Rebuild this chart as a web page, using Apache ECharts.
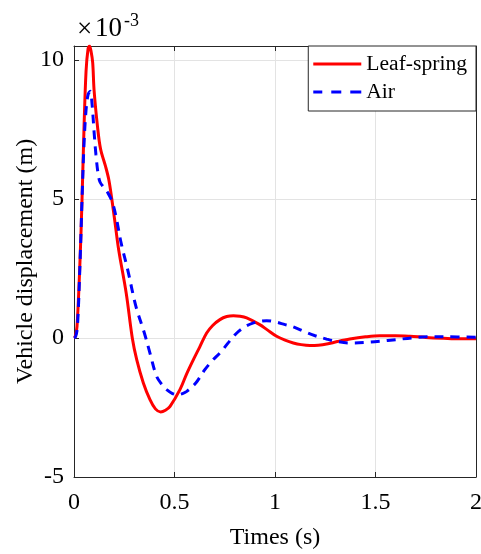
<!DOCTYPE html>
<html>
<head>
<meta charset="utf-8">
<script src="https://cdn.jsdelivr.net/npm/echarts@6/dist/echarts.min.js"></script>
<style>
  html, body { margin: 0; padding: 0; background: #fff; }
  #chart { width: 481px; height: 554px; }
</style>
</head>
<body>
<div id="chart"></div>
<script>
// Vehicle displacement response (values in units of 1e-3 m)
const xTicks = [0, 0.5, 1, 1.5, 2];
const yTicks = [-5, 0, 5, 10];

const tLeaf = [0, 0.006, 0.015, 0.03, 0.04, 0.05, 0.06, 0.07, 0.077, 0.085, 0.093, 0.10, 0.117, 0.132, 0.157, 0.173, 0.188, 0.205, 0.222, 0.26, 0.29, 0.312, 0.345, 0.378, 0.405, 0.431, 0.455, 0.478, 0.527, 0.56, 0.594, 0.627, 0.66, 0.69, 0.726, 0.76, 0.793, 0.826, 0.859, 0.924, 0.96, 1.008, 1.05, 1.091, 1.13, 1.174, 1.215, 1.257, 1.31, 1.372, 1.45, 1.522, 1.6, 1.672, 1.75, 1.838, 1.92, 2.0];
const vLeaf = [0, 0.05, 0.42, 2.8, 5.0, 7.6, 9.6, 10.4, 10.5, 10.3, 9.9, 8.9, 7.6, 6.8, 6.17, 5.7, 5.0, 4.1, 3.18, 1.6, 0.0, -0.78, -1.62, -2.22, -2.55, -2.66, -2.6, -2.46, -1.86, -1.3, -0.78, -0.3, 0.18, 0.45, 0.66, 0.77, 0.80, 0.78, 0.72, 0.48, 0.3, 0.06, -0.08, -0.18, -0.24, -0.27, -0.26, -0.22, -0.13, -0.04, 0.04, 0.08, 0.08, 0.06, 0.02, -0.01, -0.03, -0.03];

const tAir = [0, 0.008, 0.017, 0.03, 0.04, 0.05, 0.06, 0.07, 0.081, 0.09, 0.10, 0.109, 0.12, 0.13, 0.15, 0.17, 0.19, 0.209, 0.234, 0.267, 0.308, 0.35, 0.38, 0.411, 0.44, 0.461, 0.49, 0.515, 0.54, 0.561, 0.606, 0.65, 0.69, 0.726, 0.77, 0.81, 0.85, 0.893, 0.93, 0.958, 1.0, 1.05, 1.091, 1.15, 1.2, 1.257, 1.31, 1.372, 1.45, 1.522, 1.6, 1.68, 1.755, 1.85, 2.0];
const vAir = [0, 0.05, 0.4, 2.7, 5.0, 7.0, 8.2, 8.75, 8.87, 8.4, 7.4, 6.6, 5.9, 5.6, 5.4, 5.2, 4.9, 4.37, 3.43, 2.46, 1.14, 0.18, -0.6, -1.38, -1.7, -1.86, -2.0, -2.04, -2.0, -1.92, -1.62, -1.15, -0.8, -0.54, -0.15, 0.18, 0.4, 0.54, 0.6, 0.62, 0.58, 0.48, 0.40, 0.22, 0.08, -0.04, -0.13, -0.18, -0.16, -0.12, -0.06, 0.0, 0.04, 0.04, 0.03];

const seriesNames = ['Leaf-spring', 'Air'];

const zip = (t, v) => t.map((x, i) => [x, v[i]]);
const FONT = 'Liberation Serif';
const AX = '#262626';

// legend swatches: a solid bar and a dashed bar, 48 x 3
const solidIcon = 'path://M0,0h48v3h-48z';
const dashIcon = 'path://M0,0h9v3h-9zM18,0h10v3h-10zM37,0h11v3h-11z';

const xBase = {
  type: 'value', min: xTicks[0], max: xTicks[xTicks.length - 1], interval: 0.5,
  axisLine: { show: true, onZero: false, lineStyle: { color: AX, width: 1 } },
  axisTick: { show: true, inside: true, length: 5, lineStyle: { color: AX } }
};
const yBase = {
  type: 'value', min: yTicks[0], max: 10.5, interval: 5,
  axisLine: { show: true, onZero: false, lineStyle: { color: AX, width: 1 } },
  axisTick: { show: true, inside: true, length: 5, lineStyle: { color: AX } }
};

const chart = echarts.init(document.getElementById('chart'), null, { renderer: 'canvas' });
chart.setOption({
  animation: false,
  backgroundColor: '#ffffff',
  grid: { left: 74, right: 5, top: 46, bottom: 77, containLabel: false, outerBoundsMode: 'none' },
  xAxis: [
    Object.assign({}, xBase, {
      position: 'bottom',
      name: 'Times (s)', nameLocation: 'middle', nameGap: 49, nameMoveOverlap: false,
      nameTextStyle: { fontFamily: FONT, fontSize: 24, color: '#000' },
      axisLabel: { fontFamily: FONT, fontSize: 24, color: '#000', margin: 14 },
      splitLine: { show: true, lineStyle: { color: '#e3e3e3', width: 1 } }
    }),
    Object.assign({}, xBase, {
      position: 'top', axisLabel: { show: false }, splitLine: { show: false }
    })
  ],
  yAxis: [
    Object.assign({}, yBase, {
      position: 'left',
      name: 'Vehicle displacement (m)', nameLocation: 'middle', nameGap: 36, nameMoveOverlap: false,
      nameTextStyle: { fontFamily: FONT, fontSize: 24, color: '#000' },
      axisLabel: {
        fontFamily: FONT, fontSize: 24, color: '#000', margin: 10,
        formatter: v => (yTicks.indexOf(v) >= 0 ? String(v) : '')
      },
      splitLine: { show: true, lineStyle: { color: '#e3e3e3', width: 1 } }
    }),
    Object.assign({}, yBase, {
      position: 'right', axisLabel: { show: false }, splitLine: { show: false }
    })
  ],
  legend: {
    data: [
      { name: seriesNames[0], icon: solidIcon },
      { name: seriesNames[1], icon: dashIcon }
    ],
    orient: 'vertical', right: 5, top: 46,
    backgroundColor: '#fff',
    borderColor: AX, borderWidth: 1, borderRadius: 0,
    padding: [7, 9, 8, 5], itemGap: 6,
    itemWidth: 48, itemHeight: 3,
    textStyle: { fontFamily: FONT, fontSize: 21.6, lineHeight: 22, color: '#000' }
  },
  // axis exponent: x10^-3
  graphic: [
    { type: 'text', left: 77, top: 16,
      style: { text: '×', font: '27px "Liberation Serif"', fill: '#000' } },
    { type: 'text', left: 95, top: 15,
      style: { text: '10', font: '27px "Liberation Serif"', fill: '#000' } },
    { type: 'text', left: 124, top: 12,
      style: { text: '-3', font: '18px "Liberation Serif"', fill: '#000' } }
  ],
  series: [
    {
      name: seriesNames[0], type: 'line', data: zip(tLeaf, vLeaf),
      xAxisIndex: 0, yAxisIndex: 0,
      showSymbol: false, symbol: 'none', smooth: 0.35, z: 3,
      lineStyle: { color: '#ff0000', width: 3 }, itemStyle: { color: '#ff0000' }
    },
    {
      name: seriesNames[1], type: 'line', data: zip(tAir, vAir),
      xAxisIndex: 0, yAxisIndex: 0,
      showSymbol: false, symbol: 'none', smooth: 0.35, z: 4,
      lineStyle: { color: '#0000ff', width: 3, type: [9, 7] }, itemStyle: { color: '#0000ff' }
    }
  ]
});
</script>
</body>
</html>
